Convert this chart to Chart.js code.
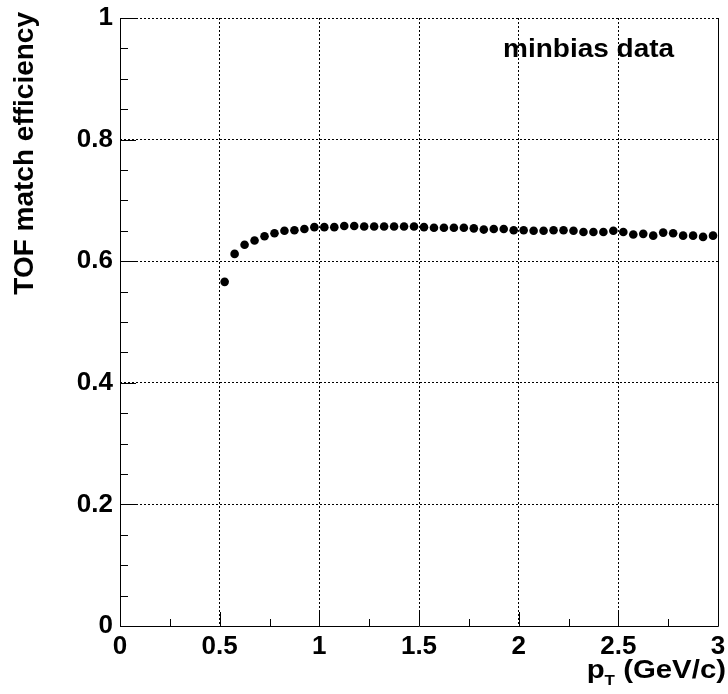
<!DOCTYPE html>
<html>
<head>
<meta charset="utf-8">
<script src="https://cdn.jsdelivr.net/npm/chart.js@4/dist/chart.umd.min.js"></script>
<style>
  html, body { margin: 0; padding: 0; background: #fff; }
  canvas { display: block; }
</style>
</head>
<body>
<canvas id="c" width="728" height="694"></canvas>
<script>
// ---- data ----
const ptBins = [
  0.525, 0.575, 0.625, 0.675, 0.725, 0.775, 0.825, 0.875, 0.925, 0.975,
  1.025, 1.075, 1.125, 1.175, 1.225, 1.275, 1.325, 1.375, 1.425, 1.475,
  1.525, 1.575, 1.625, 1.675, 1.725, 1.775, 1.825, 1.875, 1.925, 1.975,
  2.025, 2.075, 2.125, 2.175, 2.225, 2.275, 2.325, 2.375, 2.425, 2.475,
  2.525, 2.575, 2.625, 2.675, 2.725, 2.775, 2.825, 2.875, 2.925, 2.975
];
const efficiency = [
  0.566, 0.612, 0.627, 0.634, 0.641, 0.646, 0.650, 0.651, 0.653, 0.656,
  0.656, 0.656, 0.658, 0.658, 0.657, 0.657, 0.657, 0.657, 0.657, 0.657,
  0.656, 0.655, 0.655, 0.655, 0.655, 0.654, 0.652, 0.653, 0.653, 0.651,
  0.651, 0.650, 0.650, 0.651, 0.651, 0.650, 0.648, 0.648, 0.648, 0.650,
  0.648, 0.644, 0.645, 0.642, 0.647, 0.646, 0.642, 0.642, 0.640, 0.642
];
const xRange = [0, 3];
const yRange = [0, 1];
const xStep = 0.5;
const yStep = 0.2;
const xTitleMain = "p";
const xTitleSub = "T";
const xTitleRest = " (GeV/c)";
const yTitle = "TOF match efficiency";
const labelText = "minbias data";

const FONT = "'Liberation Sans', Arial, Helvetica, sans-serif";
const fmt = v => String(Math.round(v * 1000) / 1000);

const decorPlugin = {
  id: 'decor',
  afterDraw(chart) {
    const ctx = chart.ctx;
    const a = chart.chartArea;
    const xs = chart.scales.x, ys = chart.scales.y;
    ctx.save();
    ctx.strokeStyle = '#000';
    ctx.lineWidth = 1;
    ctx.setLineDash([]);
    // inward tick marks on x axis
    const xt = xs.ticks.map(t => t.value);
    ctx.beginPath();
    for (let i = 0; i < xt.length; i++) {
      const px = Math.round(xs.getPixelForValue(xt[i])) + 0.5;
      ctx.moveTo(px, a.bottom); ctx.lineTo(px, a.bottom - 14);
      if (i < xt.length - 1) {
        const mv = (xt[i] + xt[i + 1]) / 2;
        const mx = Math.round(xs.getPixelForValue(mv)) + 0.5;
        ctx.moveTo(mx, a.bottom); ctx.lineTo(mx, a.bottom - 7);
      }
    }
    // inward tick marks on y axis
    const yt = ys.ticks.map(t => t.value);
    for (let i = 0; i < yt.length; i++) {
      const py = Math.round(ys.getPixelForValue(yt[i])) + 0.5;
      ctx.moveTo(a.left, py); ctx.lineTo(a.left + 16, py);
      if (i < yt.length - 1) {
        for (let k = 1; k < 4; k++) {
          const mv = yt[i] + (yt[i + 1] - yt[i]) * k / 4;
          const my = Math.round(ys.getPixelForValue(mv)) + 0.5;
          ctx.moveTo(a.left, my); ctx.lineTo(a.left + 8, my);
        }
      }
    }
    ctx.stroke();
    // frame: left, bottom, right solid
    ctx.beginPath();
    const L = Math.round(a.left) + 0.5, R = Math.round(a.right) + 0.5, B = Math.round(a.bottom) + 0.5, T = Math.round(a.top) + 0.5;
    ctx.moveTo(L, T); ctx.lineTo(L, B); ctx.lineTo(R, B); ctx.lineTo(R, T);
    ctx.stroke();

    ctx.fillStyle = '#000';
    // y title
    ctx.save();
    ctx.translate(33, 12);
    ctx.rotate(-Math.PI / 2);
    ctx.font = "bold 28px " + FONT;
    ctx.textAlign = 'right';
    ctx.textBaseline = 'alphabetic';
    ctx.fillText(yTitle, 0, 0);
    ctx.restore();

    // x title with subscript
    ctx.save();
    const big = "bold 26px " + FONT, small = "bold 15px " + FONT;
    ctx.font = big;
    const wp = ctx.measureText(xTitleMain).width;
    const wr = ctx.measureText(xTitleRest).width;
    ctx.font = small;
    const ws = ctx.measureText(xTitleSub).width;
    const total = wp + ws + wr;
    ctx.translate(726, 678);
    ctx.scale(1.13, 1);
    ctx.textAlign = 'left';
    ctx.textBaseline = 'alphabetic';
    ctx.font = big;
    ctx.fillText(xTitleMain, -total, 0);
    ctx.font = small;
    ctx.fillText(xTitleSub, -total + wp, 7);
    ctx.font = big;
    ctx.fillText(xTitleRest, -total + wp + ws, 0);
    ctx.restore();

    // label
    ctx.save();
    ctx.translate(503, 57);
    ctx.scale(1.12, 1);
    ctx.font = "bold 25px " + FONT;
    ctx.textAlign = 'left';
    ctx.textBaseline = 'alphabetic';
    ctx.fillText(labelText, 0, 0);
    ctx.restore();

    ctx.restore();
  }
};

new Chart(document.getElementById('c'), {
  type: 'scatter',
  data: {
    datasets: [{
      data: ptBins.map((x, i) => ({ x: x, y: efficiency[i] })),
      showLine: false,
      pointRadius: 4.3,
      pointHoverRadius: 4.3,
      pointBackgroundColor: '#000',
      pointBorderWidth: 0,
      borderColor: '#000'
    }]
  },
  options: {
    responsive: false,
    animation: false,
    devicePixelRatio: 1,
    layout: { padding: { top: 18, right: 10, left: 0, bottom: 0 } },
    plugins: { legend: { display: false }, tooltip: { enabled: false } },
    scales: {
      x: {
        type: 'linear',
        min: xRange[0], max: xRange[1],
        afterFit(s) { s.height = 68; s.paddingLeft = 0; s.paddingRight = 0; s.paddingTop = 0; s.paddingBottom = 0; },
        ticks: {
          stepSize: xStep,
          color: '#000',
          padding: 5,
          font: { family: FONT, size: 26, weight: 'bold' },
          maxRotation: 0,
          callback: v => fmt(v)
        },
        grid: { color: '#000', lineWidth: 1, drawTicks: false },
        border: { display: false, dash: [2, 2] }
      },
      y: {
        type: 'linear',
        min: yRange[0], max: yRange[1],
        afterFit(s) { s.width = 120; s.paddingLeft = 0; s.paddingRight = 0; s.paddingTop = 0; s.paddingBottom = 0; },
        ticks: {
          stepSize: yStep,
          color: '#000',
          padding: 7,
          font: { family: FONT, size: 26, weight: 'bold' },
          callback: v => fmt(v)
        },
        grid: { color: '#000', lineWidth: 1, drawTicks: false },
        border: { display: false, dash: [2, 2] }
      }
    }
  },
  plugins: [decorPlugin]
});
</script>
</body>
</html>
